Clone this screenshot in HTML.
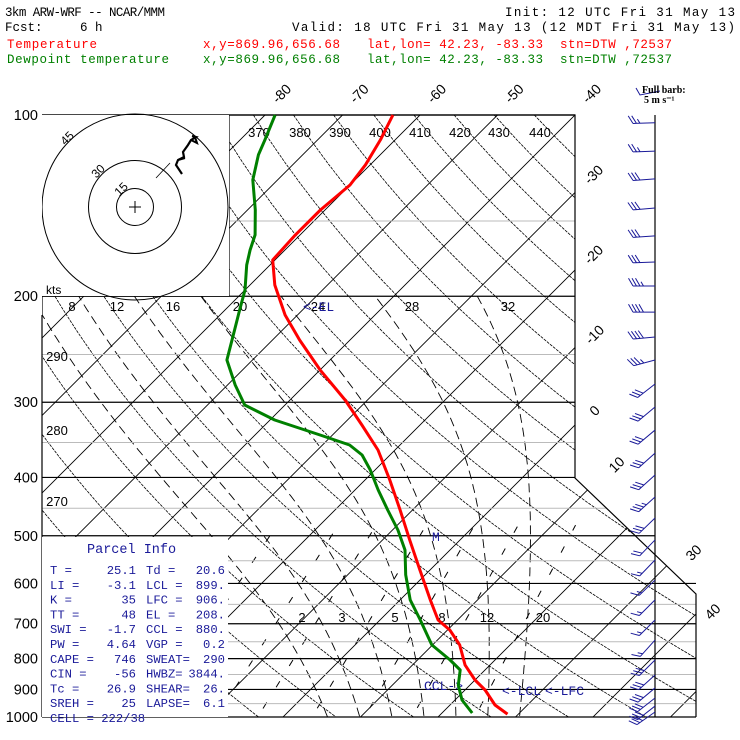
<!DOCTYPE html>
<html><head><meta charset="utf-8">
<style>
html,body{margin:0;padding:0;background:#fff;}
svg{display:block;}
text{font-family:"Liberation Sans",sans-serif;}
.mono{font-family:"Liberation Mono",monospace;}
</style></head>
<body>
<svg id="chart" width="740" height="740" viewBox="0 0 740 740" xmlns="http://www.w3.org/2000/svg">
  <defs>
    <clipPath id="plotclip"><polygon points="42,115 575,115 575,478 696,594 696,717 42,717"/></clipPath>
  </defs>
  <g id="header" class="mono" font-size="12.5" fill="#000">
    <text x="5" y="16" textLength="160" class="mono">3km ARW-WRF -- NCAR/MMM</text>
    <text x="505" y="16" textLength="230" class="mono">Init: 12 UTC Fri 31 May 13</text>
    <text x="5" y="31" class="mono" xml:space="preserve">Fcst:     6 h</text>
    <text x="292" y="31" textLength="443" class="mono">Valid: 18 UTC Fri 31 May 13 (12 MDT Fri 31 May 13)</text>
    <g fill="#ff0000">
      <text x="7" y="48" textLength="90" class="mono">Temperature</text>
      <text x="203" y="48" textLength="137" class="mono">x,y=869.96,656.68</text>
      <text x="367" y="48" textLength="176" class="mono">lat,lon= 42.23, -83.33</text>
      <text x="560" y="48" textLength="112" class="mono">stn=DTW ,72537</text>
    </g>
    <g fill="#008000">
      <text x="7" y="63" textLength="162" class="mono">Dewpoint temperature</text>
      <text x="203" y="63" textLength="137" class="mono">x,y=869.96,656.68</text>
      <text x="367" y="63" textLength="176" class="mono">lat,lon= 42.23, -83.33</text>
      <text x="560" y="63" textLength="112" class="mono">stn=DTW ,72537</text>
    </g>
  </g>
  <g id="bg" clip-path="url(#plotclip)"></g>
  <g id="isobars"></g>
  <g id="boxes"></g>
  <g id="labels"></g>
  <g id="profiles"></g>
  <g id="barbs"></g>
</svg>
<script>
// ---- data ----
const tempP=[100,110,121,130.7,143.8,158.2,174.1,191.6,214.9,236.5,265.1,297.4,327.3,360.1,404,453.1,508,570,639,690,717,759,820,868,902,955,989];
const tempT=[-63.5,-61.9,-60.6,-60,-60.6,-60.6,-60.3,-56.8,-51.6,-46.5,-40,-32.9,-27.5,-22.2,-16.8,-11.6,-6.5,-1.3,3.9,7.5,10.3,13.5,16.8,20,22.6,25.8,28.6];
const dewP=[100,110,116.5,128.2,143.8,158.2,167.6,177.5,195.3,210.9,232,255.3,280.9,303.2,321.1,340.1,353.3,367.1,388.8,419.7,453.1,489.1,528,580.8,639,690,759,804,835.5,885,937,985];
const dewT=[-78.7,-76.8,-75.7,-73.2,-69,-65.8,-64.5,-63,-60,-58.1,-55.7,-53.3,-49,-45.2,-39.4,-31.6,-26.5,-23.6,-20.6,-17,-13.2,-9.3,-5.8,-2.5,1.3,5.2,9.9,14.2,16.8,18.5,20.9,23.9];
const barbP=[103,114.8,127.7,142.7,158.8,175.5,192.3,212.5,233.8,255.3,279.8,305.5,333.7,364.4,396.3,431.1,467.1,508,548.6,592.3,639,690,745,804,851.6,894.8,930,959,981];
const barbDir=[268,268,266,265,266,268,270,270,265,255,232,230,230,228,228,228,226,224,224,226,225,225,222,225,228,230,232,232,235];
const barbSpd=[12.5,12.5,15,15,15,15,17.5,20,20,17.5,15,15,15,15,15,17.5,15,10,7.5,7.5,7.5,7.5,7.5,15,15,15,15,15,15];
const majorP=[100,200,300,400,500,600,700,800,900,1000];
const minorP=[150,250,350,450,550,650,750,850,950];
const isoT=[-160,-150,-140,-130,-120,-110,-100,-90,-80,-70,-60,-50,-40,-30,-20,-10,0,10,20,30,40,50];
const thetaK=[240,250,260,270,280,290,300,310,320,330,340,350,360,370,380,390,400,410,420,430,440,450,460,470,480];
const moistW=[8,12,16,20,24,28,32];
const mixR=[0.4,1,2,3,5,8,12,20];
const mixLabels=["2","3","5","8","12","20"];
const mixLabelX=[302,342,395,442,487,543];
const isoTopLabels=["-80","-70","-60","-50","-40"];
const isoRightLabels=["-30","-20","-10","0","10","30","40"];
const thetaTopLabels=["370","380","390","400","410","420","430","440"];

// ---- axis functions ----
function yP(p){return 115+602*Math.log10(p/100);}
function xT(T,p){return 575+(T+40)*7.75-(yP(p)-115);}
const NS="http://www.w3.org/2000/svg";
function mk(tag,attrs,parent){const e=document.createElementNS(NS,tag);for(const k in attrs)e.setAttribute(k,attrs[k]);parent.appendChild(e);return e;}
const bg=document.getElementById('bg');
const gIso=document.getElementById('isobars');
const gBox=document.getElementById('boxes');
const gLab=document.getElementById('labels');
const gProf=document.getElementById('profiles');
const gBarb=document.getElementById('barbs');

// isotherms
isoT.forEach(T=>{
  const l=mk('line',{x1:xT(T,100),y1:yP(100),x2:xT(T,1050),y2:yP(1050),stroke:'#000','stroke-width':0.9},bg);
  
  
});
// dry adiabats
thetaK.forEach(th=>{
  let pts=[];
  for(let p=100;p<=1050;p+=10){const T=th*Math.pow(p/1000,0.2857)-273.15;pts.push(xT(T,p).toFixed(1)+','+yP(p).toFixed(1));}
  const l=mk('polyline',{points:pts.join(' '),fill:'none',stroke:'#000','stroke-width':0.8,'stroke-dasharray':'3,1'},bg);
  
  
});
// moist adiabats
function es(T){return 6.112*Math.exp(17.67*T/(T+243.5));}
moistW.forEach(tw=>{
  let T=tw,pts=[];
  for(let p=1050;p>=200;p-=5){
    pts.push(xT(T,p).toFixed(1)+','+yP(p).toFixed(1));
    const Tk=T+273.15,e=es(T),rs=0.622*e/(p-e);
    const dTdp=(287*Tk+2.5e6*rs)/(p*(1005+2.5e6*2.5e6*rs*0.622/(287*Tk*Tk)));
    T-=dTdp*5;
  }
  const l=mk('polyline',{points:pts.join(' '),fill:'none',stroke:'#000','stroke-width':0.9,'stroke-dasharray':'9,5'},bg);
  
  
});
// mixing ratio lines
function tdFromW(w,p){const e=w/1000*p/(0.622+w/1000);const a=Math.log(e/6.112);return 243.5*a/(17.67-a);}
mixR.forEach(w=>{
  const l=mk('line',{x1:xT(tdFromW(w,1050),1050),y1:yP(1050),x2:xT(tdFromW(w,480),480),y2:yP(480),stroke:'#000','stroke-width':1,'stroke-dasharray':'7,18'},bg);
  
  
});
// white boxes (hodograph inset & parcel info)
mk('rect',{x:42,y:115,width:187,height:181,fill:'#fff'},gBox);
mk('rect',{x:42,y:537,width:186,height:180,fill:'#fff'},gBox);

// isobars
minorP.forEach(p=>{
  const y=yP(p);let x1=42,x2;
  if(p==150)x1=229;
  if(p<400)x2=575;else if(p<500)x2=575+(y-478)*1.05;else x2=696;
  if(p==550)x2=655;
  const l=mk('line',{x1:x1,y1:y,x2:x2,y2:y,stroke:'#bbb','stroke-width':1},gIso);
  
  
});
majorP.forEach(p=>{
  const y=yP(p);const x2=p<=400?575:(p==500?655:696);
  const l=mk('line',{x1:42,y1:y,x2:x2,y2:y,stroke:'#000','stroke-width':1.2},gIso);
  
  
  const t=mk('text',{x:38,y:y+5,'text-anchor':'end','font-size':14.5},gLab);t.textContent=p;
  
  
});
// frame
mk('polyline',{points:'42,717 42,115 575,115 575,478 696,594 696,717',fill:'none',stroke:'#000','stroke-width':1.2},gIso);
mk('line',{x1:229,y1:115,x2:229,y2:296,stroke:'#000','stroke-width':1.2},gIso);
mk('line',{x1:655,y1:115,x2:655,y2:717,stroke:'#000','stroke-width':1.2},gIso);

// hodograph
const hod=mk('g',{},gBox);
[18.5,46.5,93].forEach(r=>mk('circle',{cx:135,cy:207,r:r,fill:'none',stroke:'#000','stroke-width':1},hod));
mk('rect',{x:30,y:95,width:12,height:220,fill:'#fff'},hod);
mk('path',{d:'M129 207h12M135 201v12',stroke:'#000','stroke-width':1},hod);
mk('line',{x1:156,y1:178,x2:170,y2:163,stroke:'#000','stroke-width':0.8},hod);
mk('polyline',{points:'182,174 176,165 178,160 184,157 183,152 188,145 191,140 196,137 192,136',fill:'none',stroke:'#000','stroke-width':2.2},hod);
mk('path',{d:'M178,160 l7,-2 M191,140 l6,3 l-2,-6',fill:'none',stroke:'#000','stroke-width':2},hod);
[["15",124,192],["30",101,174],["45",70,141]].forEach(a=>{const t=mk('text',{x:a[1],y:a[2],'font-size':12,transform:'rotate(-45 '+a[1]+' '+a[2]+')','text-anchor':'middle'},hod);t.textContent=a[0];});
const kts=mk('text',{x:46,y:294,'font-size':12},hod);kts.textContent='kts';

// labels: isotherms top
isoTopLabels.forEach((s,i)=>{const x=285+i*77.5,y=97;const t=mk('text',{x:x,y:y,'font-size':14,'text-anchor':'middle',transform:'rotate(-45 '+x+' '+y+')'},gLab);t.textContent=s;
 });
[[597,178],[597,258],[598,338],[598,414],[620,468],[697,556],[716,615]].forEach((c,i)=>{const t=mk('text',{x:c[0],y:c[1],'font-size':14,'text-anchor':'middle',transform:'rotate(-45 '+c[0]+' '+c[1]+')'},gLab);t.textContent=isoRightLabels[i];
 });
thetaTopLabels.forEach((s,i)=>{const x=[259,300,340,380,420,460,499,540][i];const t=mk('text',{x:x,y:137,'font-size':13,'text-anchor':'middle'},gLab);t.textContent=s;
 });
[["290",57,361],["280",57,435],["270",57,506]].forEach(a=>{const t=mk('text',{x:a[1],y:a[2],'font-size':13,'text-anchor':'middle'},gLab);t.textContent=a[0];});
[["8",72],["12",117],["16",173],["20",240],["24",318],["28",412],["32",508]].forEach(a=>{const t=mk('text',{x:a[1],y:311,'font-size':13,'text-anchor':'middle'},gLab);t.textContent=a[0];
 });
mixLabels.forEach((s,i)=>{const t=mk('text',{x:mixLabelX[i],y:622,'font-size':13,'text-anchor':'middle'},gLab);t.textContent=s;
 });
// blue markers
[["<-EL",303,311],["M",432,541],["CCL->",424,690],["<-LCL",502,695],["<-LFC",545,695]].forEach(a=>{const t=mk('text',{x:a[1],y:a[2],'font-size':13,fill:'#1a1a99',class:'mono'},gLab);t.textContent=a[0];
 });

// parcel info
const pi=mk('g',{fill:'#1a1a99','font-size':12.2,class:'mono'},gLab);
const pt=mk('text',{x:87,y:553,class:'mono','font-size':13.5},pi);pt.textContent='Parcel Info';
const rows=[["T  =","25.1","Td =","20.6"],["LI =","-3.1","LCL =","899."],["K  =","35","LFC =","906."],["TT =","48","EL  =","208."],["SWI =","-1.7","CCL =","880."],["PW =","4.64","VGP =","0.2"],["CAPE =","746","SWEAT=","290"],["CIN =","-56","HWBZ=","3844."],["Tc =","26.9","SHEAR=","26."],["SREH =","25","LAPSE=","6.1"]];
rows.forEach((r,i)=>{const y=574+i*14.8;
 let t=mk('text',{x:50,y:y,class:'mono','xml:space':'preserve'},pi);t.textContent=r[0];
 t=mk('text',{x:136,y:y,'text-anchor':'end',class:'mono'},pi);t.textContent=r[1];
 t=mk('text',{x:146,y:y,class:'mono','xml:space':'preserve'},pi);t.textContent=r[2];
 t=mk('text',{x:225,y:y,'text-anchor':'end',class:'mono'},pi);t.textContent=r[3];});
const cell=mk('text',{x:50,y:722,class:'mono'},pi);cell.textContent='CELL = 222/38';

// profiles
function poly(P,T,color,name){const pts=P.map((p,i)=>xT(T[i],p).toFixed(1)+','+yP(p).toFixed(1)).join(' ');
 const l=mk('polyline',{points:pts,fill:'none',stroke:color,'stroke-width':3,'stroke-linejoin':'round'},gProf);
 
 }
poly(dewP,dewT,'#008000','dewpoint-line');
poly(tempP,tempT,'#ff0000','temperature-line');

// wind barbs
function barb(x0,y0,dir,spd,parent){
 const a=dir*Math.PI/180,ux=Math.sin(a),uy=-Math.cos(a),L=22;
 const tx=x0+ux*L,ty=y0+uy*L;
 let d='M'+x0+' '+y0+'L'+tx.toFixed(1)+' '+ty.toFixed(1);
 const c=Math.cos(Math.PI/3),s=Math.sin(Math.PI/3);
 const fx=ux*c-uy*s,fy=ux*s+uy*c;
 let n=Math.floor(spd/5),half=(spd%5)>=2.5,k=0;
 for(let i=0;i<n;i++,k++){const bx=tx-ux*k*3.5,by=ty-uy*k*3.5;d+='M'+bx.toFixed(1)+' '+by.toFixed(1)+'l'+(fx*9).toFixed(1)+' '+(fy*9).toFixed(1);}
 if(half){const bx=tx-ux*k*3.5,by=ty-uy*k*3.5;d+='M'+bx.toFixed(1)+' '+by.toFixed(1)+'l'+(fx*5).toFixed(1)+' '+(fy*5).toFixed(1);}
 return mk('path',{d:d,fill:'none',stroke:'#1a1a99','stroke-width':1},parent);}
barbP.forEach((p,i)=>{const b=barb(655,yP(p),barbDir[i],barbSpd[i],gBarb);
 
 });
// full barb legend
const lg=mk('g',{},gBarb);
mk('path',{d:'M660 91 L640 95 L636 88',fill:'none',stroke:'#1a1a99','stroke-width':1},lg);
let t1=mk('text',{x:642,y:93,'font-size':10,'font-weight':'bold',style:'font-family:"Liberation Serif",serif'},lg);t1.textContent='Full barb:';
let t2=mk('text',{x:644,y:103,'font-size':10,'font-weight':'bold',style:'font-family:"Liberation Serif",serif'},lg);t2.textContent='5 m s⁻¹';
</script>
</body></html>
